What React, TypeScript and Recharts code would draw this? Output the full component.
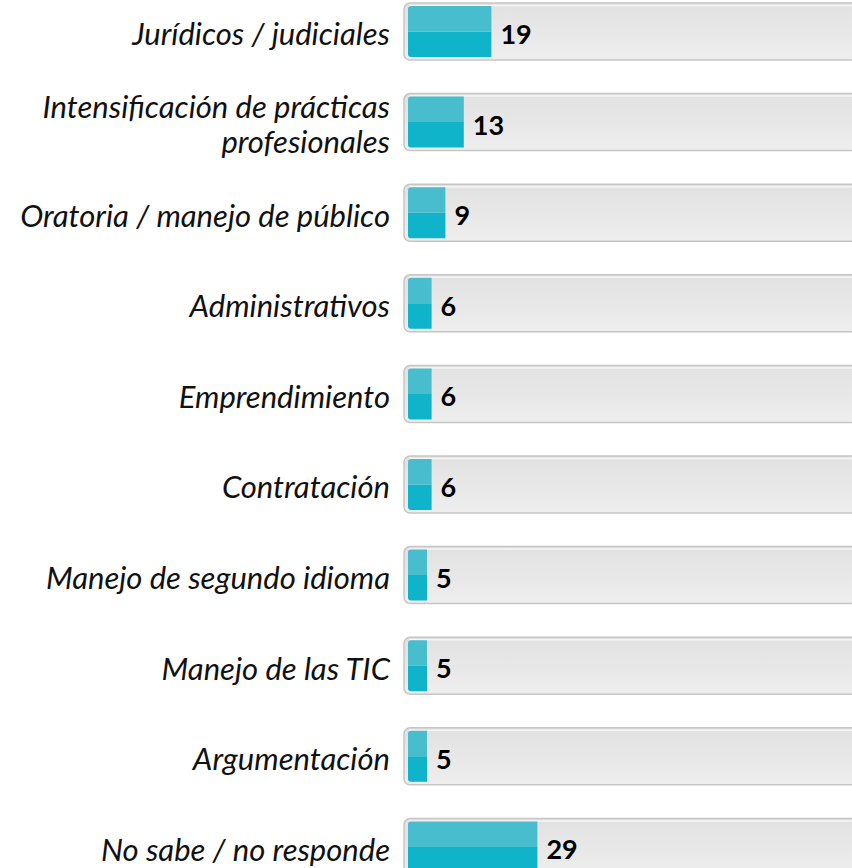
import { BarChart, Bar, XAxis, YAxis, LabelList } from "recharts";

const categories = [
  "Jurídicos / judiciales",
  "Intensificación de prácticas profesionales",
  "Oratoria / manejo de público",
  "Administrativos",
  "Emprendimiento",
  "Contratación",
  "Manejo de segundo idioma",
  "Manejo de las TIC",
  "Argumentación",
  "No sabe / no responde",
];
const values = [19, 13, 9, 6, 6, 6, 5, 5, 5, 29];

const data = categories.map((name, i) => ({ name, value: values[i] }));

const labelFont = "Lato, 'Open Sans', sans-serif";

// greedy word wrap, ~30 chars per line
function wrap(s: string, max = 30) {
  const lines: string[] = [];
  let cur = "";
  for (const w of s.split(" ")) {
    const next = cur ? cur + " " + w : w;
    if (next.length > max && cur) {
      lines.push(cur);
      cur = w;
    } else cur = next;
  }
  if (cur) lines.push(cur);
  return lines;
}

function CategoryTick(props: any) {
  const { x, y, payload } = props;
  const lines = wrap(String(payload.value));
  const first = y + 14 - (lines.length - 1) * 18;
  return (
    <text
      x={x}
      y={first}
      textAnchor="end"
      fill="#111"
      style={{ fontSize: 31, fontFamily: labelFont, fontStyle: "italic" }}
    >
      {lines.map((l, i) => (
        <tspan key={i} x={x} dy={i === 0 ? 0 : 35}>
          {l}
        </tspan>
      ))}
    </text>
  );
}

function Track(props: any) {
  const { x, y, width, height } = props;
  return (
    <g>
      <rect x={x} y={y} width={width} height={height} rx={6} fill="url(#trackFill)" stroke="#c6c6c6" strokeWidth={1.5} />
      <line x1={x + 5} x2={x + width - 5} y1={y + 2.5} y2={y + 2.5} stroke="#f6f6f6" strokeWidth={1.5} />
    </g>
  );
}

function TealBar(props: any) {
  const { x, y, width, height } = props;
  const bx = x + 4;
  const by = y + 3;
  const bw = Math.max(width - 4, 0);
  const bh = height - 6;
  const half = bh / 2;
  const r = 3;
  return (
    <g>
      <path
        d={`M${bx + r},${by + half} L${bx + bw},${by + half} L${bx + bw},${by + bh} L${bx + r},${by + bh} Q${bx},${by + bh} ${bx},${by + bh - r} L${bx},${by + half} Z`}
        fill="#0fb3ca"
      />
      <path
        d={`M${bx},${by + half} L${bx},${by + r} Q${bx},${by} ${bx + r},${by} L${bx + bw},${by} L${bx + bw},${by + half} Z`}
        fill="#48bdcd"
      />
    </g>
  );
}

export default function App() {
  return (
    <div style={{ position: "absolute", left: 0, top: 0, width: 852, height: 868, overflow: "hidden", background: "#fff" }}>
      <div style={{ marginTop: -14 }}>
        <BarChart
          width={880}
          height={906}
          data={data}
          layout="vertical"
          margin={{ top: 0, right: 16, bottom: 0, left: 0 }}
        >
          <defs>
            <linearGradient id="trackFill" x1="0" y1="0" x2="0" y2="1">
              <stop offset="0%" stopColor="#e2e1e2" />
              <stop offset="100%" stopColor="#efeeee" />
            </linearGradient>
          </defs>
          <XAxis type="number" domain={[0, 100]} hide />
          <YAxis
            type="category"
            dataKey="name"
            width={404}
            axisLine={false}
            tickLine={false}
            tickMargin={8}
            tick={<CategoryTick />}
            interval={0}
          />
          <Bar
            dataKey="value"
            barSize={57}
            background={<Track />}
            shape={<TealBar />}
            isAnimationActive={false}
          >
            <LabelList
              dataKey="value"
              position="right"
              offset={9}
              dy={3}
              fill="#000"
              style={{ fontSize: 27, fontWeight: 700, fontFamily: labelFont }}
            />
          </Bar>
        </BarChart>
      </div>
    </div>
  );
}
